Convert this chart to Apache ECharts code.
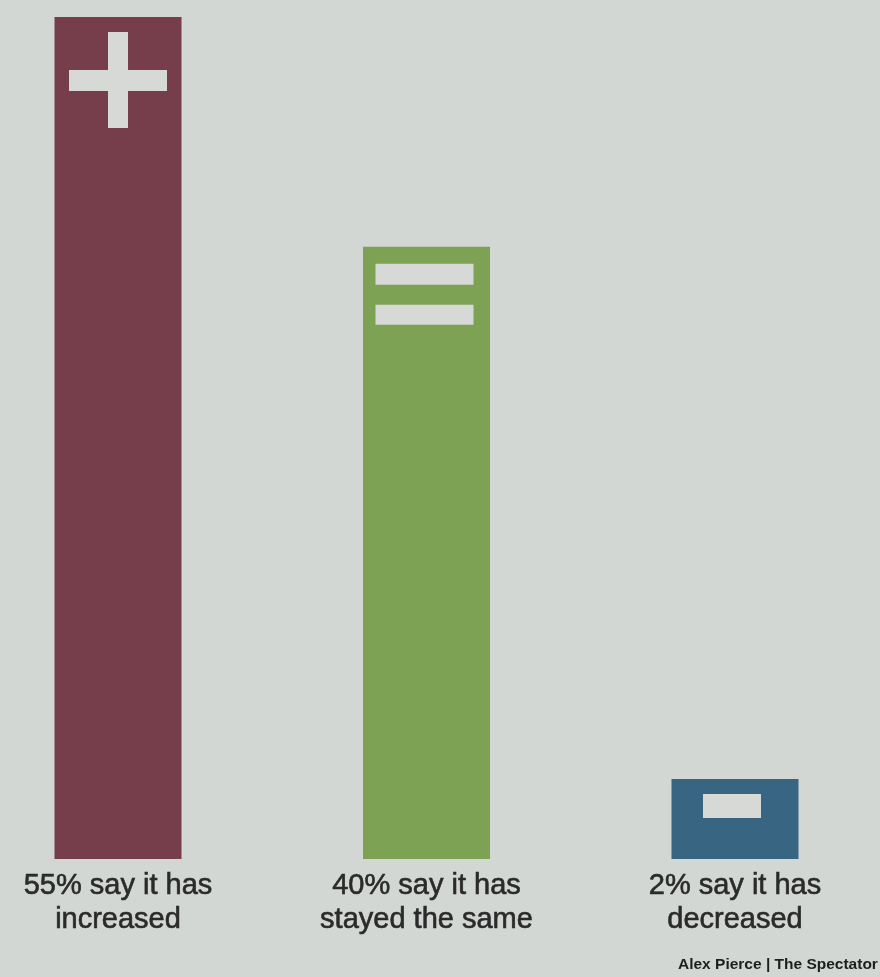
<!DOCTYPE html>
<html>
<head>
<meta charset="utf-8">
<script src="https://cdn.jsdelivr.net/npm/echarts@6/dist/echarts.min.js"></script>
<style>
html,body{margin:0;padding:0;background:#d3d7d3;}
#chart{width:880px;height:977px;}
</style>
</head>
<body>
<div id="chart"></div>
<script>
// Data
const categories = ['55% say it has\nincreased', '40% say it has\nstayed the same', '2% say it has\ndecreased'];
const values = [55, 40, 2];
const signs = ['plus', 'equals', 'minus'];
const barColors = ['#763d4b', '#7ea253', '#386581'];
const credit = 'Alex Pierce | The Spectator';

const BG = '#d3d7d3';
const ICON = '#d6d9d5';
const BAR_W = 127;
const MIN_H = 80;

const chart = echarts.init(document.getElementById('chart'), null, {renderer: 'canvas'});

function renderItem(params, api) {
  const idx = params.dataIndex;
  const base = api.coord([api.value(0), 0]);
  const top = api.coord([api.value(0), api.value(1)]);
  const c = base[0];
  const y = Math.min(top[1], base[1] - MIN_H);
  const children = [{
    type: 'rect',
    shape: {x: c - BAR_W / 2, y: y, width: BAR_W, height: base[1] - y},
    style: {fill: barColors[idx]}
  }];
  const s = signs[idx];
  if (s === 'plus') {
    children.push({type: 'rect', shape: {x: c - 10, y: y + 15, width: 20, height: 96}, style: {fill: ICON}});
    children.push({type: 'rect', shape: {x: c - 49, y: y + 53, width: 98, height: 21}, style: {fill: ICON}});
  } else if (s === 'equals') {
    children.push({type: 'rect', shape: {x: c - 51, y: y + 17, width: 98, height: 21}, style: {fill: ICON}});
    children.push({type: 'rect', shape: {x: c - 51, y: y + 58, width: 98, height: 20}, style: {fill: ICON}});
  } else if (s === 'minus') {
    children.push({type: 'rect', shape: {x: c - 32, y: y + 15, width: 58, height: 24}, style: {fill: ICON}});
  }
  return {type: 'group', children: children};
}

chart.setOption({
  backgroundColor: BG,
  animation: false,
  grid: {left: 118, right: 145, top: 17, bottom: 118, containLabel: false},
  xAxis: {
    type: 'category',
    data: categories,
    boundaryGap: false,
    axisLine: {show: false},
    axisTick: {show: false},
    splitLine: {show: false},
    axisLabel: {
      interval: 0,
      margin: 10,
      color: '#2a2a2a',
      fontFamily: '"Liberation Sans", Arial, sans-serif',
      fontSize: 29,
      lineHeight: 34,
      textBorderColor: '#2a2a2a',
      textBorderWidth: 0.6,
      align: 'center'
    }
  },
  yAxis: {
    type: 'value',
    min: 0,
    max: 55,
    show: false
  },
  series: [{
    type: 'custom',
    renderItem: renderItem,
    data: values.map((v, i) => [i, v]),
    encode: {x: 0, y: 1}
  }],
  graphic: [{
    type: 'text',
    left: 678,
    top: 957,
    style: {
      text: credit,
      fill: '#1e1e1e',
      font: 'bold 15.5px "Liberation Sans", Arial, sans-serif'
    }
  }]
});
</script>
</body>
</html>
